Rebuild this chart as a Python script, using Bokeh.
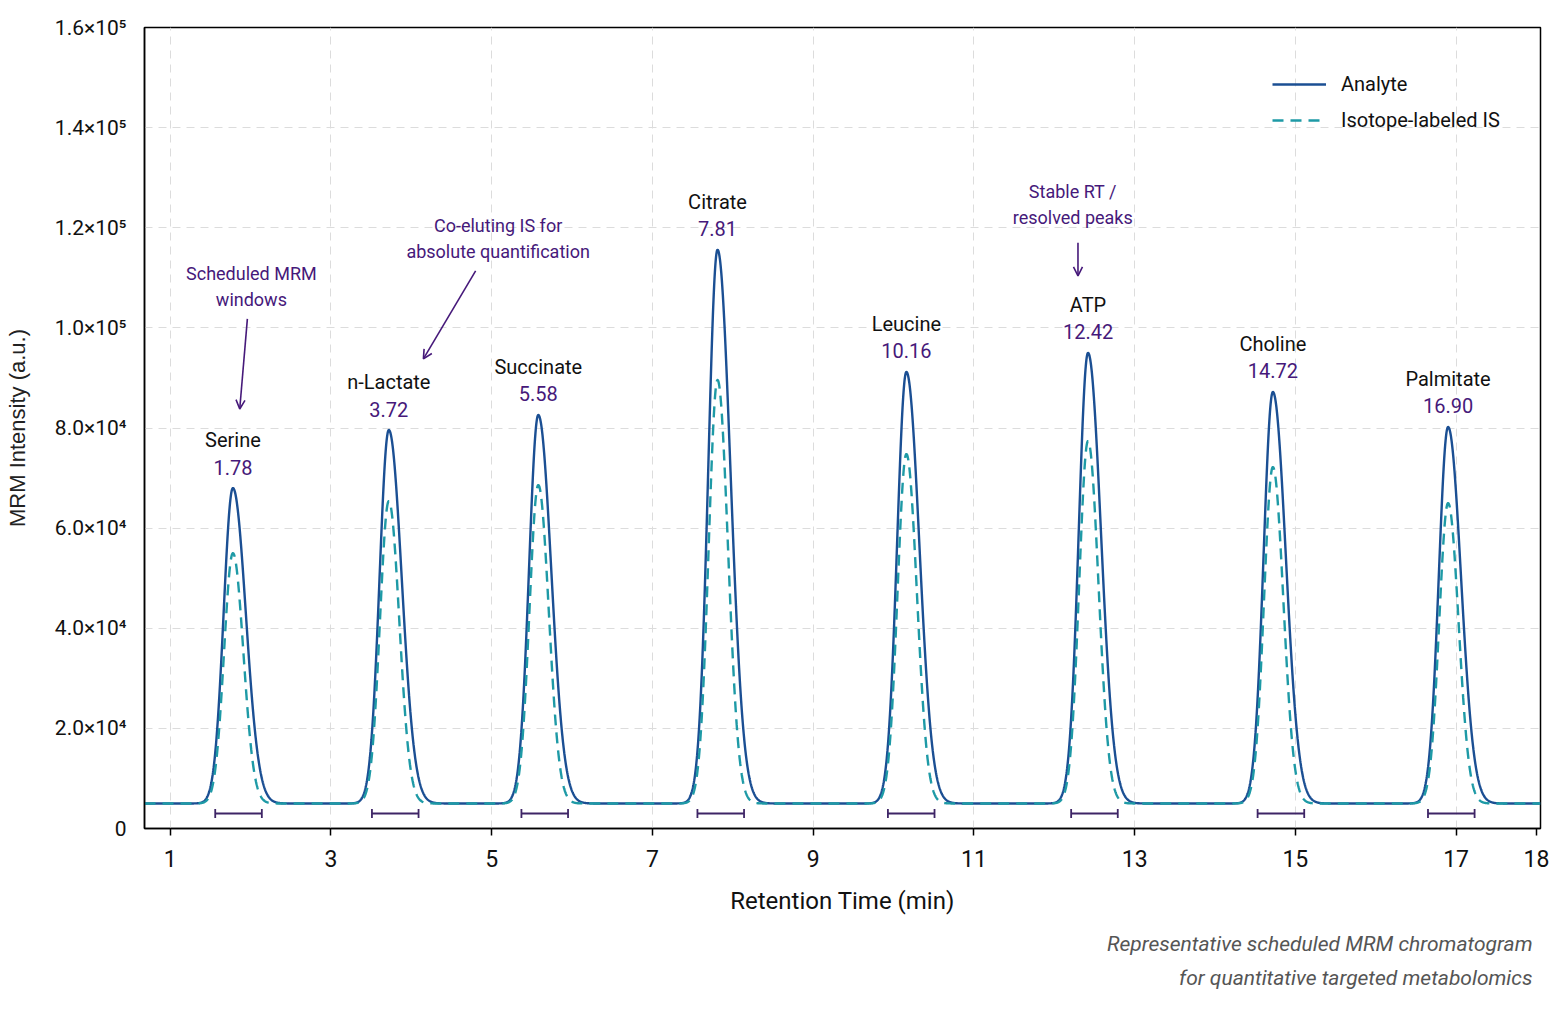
import numpy as np
from bokeh.plotting import figure
from bokeh.models import (FixedTicker, Legend, LegendItem, Label, Arrow, OpenHead,
                          ColumnDataSource, Title)
from bokeh.core.properties import value
from bokeh.embed import file_html
from bokeh.resources import INLINE

# ---- data ---------------------------------------------------------------
compounds = ["Serine", "n-Lactate", "Succinate", "Citrate", "Leucine", "ATP", "Choline", "Palmitate"]
retention_times = [1.78, 3.72, 5.58, 7.81, 10.16, 12.42, 14.72, 16.90]
analyte_heights = [68000, 79600, 82600, 115600, 91200, 95000, 87200, 80200]
is_heights = [55000, 65400, 68600, 89600, 74800, 77400, 72200, 65000]
baseline = 5000

# scheduled MRM acquisition windows (min)
window_start = [1.56, 3.51, 5.37, 7.56, 9.93, 12.21, 14.53, 16.65]
window_end = [2.14, 4.09, 5.95, 8.14, 10.51, 12.79, 15.11, 17.23]
window_level = 3000

y_ticks = [0, 20000, 40000, 60000, 80000, 100000, 120000, 140000, 160000]
y_tick_labels = ["0", "2.0×10⁴", "4.0×10⁴", "6.0×10⁴", "8.0×10⁴",
                 "1.0×10⁵", "1.2×10⁵", "1.4×10⁵", "1.6×10⁵"]
x_ticks = [1, 3, 5, 7, 9, 11, 13, 15, 17, 18]

# ---- styling ------------------------------------------------------------
FONT = "Roboto"
ANALYTE = "#1b4f93"
IS_COL = "#1e9aa6"
PURPLE = "#46197a"
WIN_COL = "#3e2566"

X0, X1 = 0.68, 18.05


def peak(t, rt, height, sig_l, sig_r):
    sig = np.where(t < rt, sig_l, sig_r)
    return (height - baseline) * np.exp(-0.5 * ((t - rt) / sig) ** 2)


t = np.arange(X0, X1, 0.004)
analyte = np.full_like(t, baseline, dtype=float)
labeled = np.full_like(t, baseline, dtype=float)
for rt, ha, hi in zip(retention_times, analyte_heights, is_heights):
    analyte += peak(t, rt, ha, 0.115, 0.16)
    labeled += peak(t, rt, hi, 0.11, 0.13)

p = figure(width=1554, height=1012, x_range=(X0, X1), y_range=(0, 160000),
           output_backend="svg", toolbar_location=None,
           min_border_left=144, min_border_right=14, min_border_top=27,
           min_border_bottom=184)
p.background_fill_color = "white"
p.border_fill_color = "white"
p.outline_line_color = "black"
p.outline_line_width = 1.5

# grid
p.xgrid.ticker = FixedTicker(ticks=x_ticks[:-1])
p.ygrid.ticker = FixedTicker(ticks=y_ticks)
for g in (p.xgrid, p.ygrid):
    g.grid_line_color = "#dcdcdc"
    g.grid_line_dash = "8 6"
    g.grid_line_width = 1

# axes
p.xaxis.ticker = FixedTicker(ticks=x_ticks)
p.yaxis.ticker = FixedTicker(ticks=y_ticks)
p.yaxis.major_label_overrides = {v: s for v, s in zip(y_ticks, y_tick_labels)}
for ax in (p.xaxis, p.yaxis):
    ax.axis_line_color = "black"
    ax.axis_line_width = 1.5
    ax.minor_tick_line_color = None
    ax.major_label_text_font = FONT
    ax.major_label_text_color = "#111111"
p.xaxis.major_label_text_font_size = "23px"
p.yaxis.major_label_text_font_size = "21px"
p.xaxis.major_tick_in = 0
p.xaxis.major_tick_out = 7
p.xaxis.major_tick_line_color = "black"
p.xaxis.major_tick_line_width = 1.5
p.xaxis.major_label_standoff = 14
p.yaxis.major_tick_line_color = None
p.yaxis.major_label_standoff = 12

p.xaxis.axis_label = "Retention Time (min)"
p.xaxis.axis_label_text_font = FONT
p.xaxis.axis_label_text_font_size = "24px"
p.xaxis.axis_label_text_font_style = "normal"
p.xaxis.axis_label_text_color = "#111111"
p.xaxis.axis_label_standoff = 17

p.yaxis.axis_label = "MRM Intensity (a.u.)"
p.yaxis.axis_label_text_font = "Liberation Sans"
p.yaxis.axis_label_text_font_size = "22px"
p.yaxis.axis_label_text_font_style = "normal"
p.yaxis.axis_label_text_color = "#222222"
p.yaxis.axis_label_standoff = 22

# caption below the x axis title, two right-aligned lines
caption_lines = ["Representative scheduled MRM chromatogram",
                 "for quantitative targeted metabolomics"]
for i, line in enumerate(caption_lines):
    p.add_layout(Title(text=line, align="right", text_font=FONT, text_font_style="italic",
                       text_font_size="21px", text_color="#555555", text_line_height=1.0,
                       offset=8, standoff=24 if i == 0 else -8), "below")

# traces
r_an = p.line(t, analyte, line_color=ANALYTE, line_width=2.4)
r_is = p.line(t, labeled, line_color=IS_COL, line_width=2.4, line_dash="11 7")

# scheduled MRM windows
p.segment(x0=window_start, y0=[window_level] * len(window_start),
          x1=window_end, y1=[window_level] * len(window_end),
          line_color=WIN_COL, line_width=1.8)
p.scatter(x=window_start + window_end, y=[window_level] * (2 * len(window_start)),
          marker="dash", angle=np.pi / 2, size=9, line_color=WIN_COL, line_width=1.8)

# compound and retention time labels
lab_src = ColumnDataSource(dict(x=retention_times, y=analyte_heights, name=compounds,
                                rt=[f"{v:.2f}" for v in retention_times]))
p.text(x="x", y="y", text="name", source=lab_src, y_offset=-48,
       text_align="center", text_baseline="middle", text_font=value(FONT),
       text_font_size="20px", text_color="#111111")
p.text(x="x", y="y", text="rt", source=lab_src, y_offset=-21,
       text_align="center", text_baseline="middle", text_font=value(FONT),
       text_font_size="20px", text_color=PURPLE)

# callouts
callouts = [
    (2.01, [110800, 105600], ["Scheduled MRM", "windows"], (1.96, 101800), (1.865, 83800)),
    (5.08, [120400, 115200], ["Co-eluting IS for", "absolute quantification"], (4.80, 111400), (4.15, 93800)),
    (12.23, [127200, 122000], ["Stable RT /", "resolved peaks"], (12.295, 117000), (12.295, 110400)),
]
for cx, ys, lines, start, end in callouts:
    for yy, txt in zip(ys, lines):
        p.add_layout(Label(x=cx, y=yy, text=txt, text_align="center", text_baseline="middle",
                           text_font=FONT, text_font_size="18px", text_color=PURPLE))
    p.add_layout(Arrow(x_start=start[0], y_start=start[1], x_end=end[0], y_end=end[1],
                       line_color=PURPLE, line_width=1.6,
                       end=OpenHead(size=9, line_color=PURPLE, line_width=1.6)))

# legend
legend = Legend(items=[LegendItem(label="Analyte", renderers=[r_an]),
                       LegendItem(label="Isotope-labeled IS", renderers=[r_is])],
                location=(1128, 690), orientation="vertical")
legend.border_line_color = None
legend.background_fill_alpha = 0
legend.glyph_width = 54
legend.glyph_height = 36
legend.label_height = 36
legend.spacing = 0
legend.padding = 10
legend.label_standoff = 15
legend.label_text_font = FONT
legend.label_text_font_size = "20px"
legend.label_text_color = "#111111"
p.add_layout(legend, "center")

open("out.html", "w").write(file_html(p, INLINE))
